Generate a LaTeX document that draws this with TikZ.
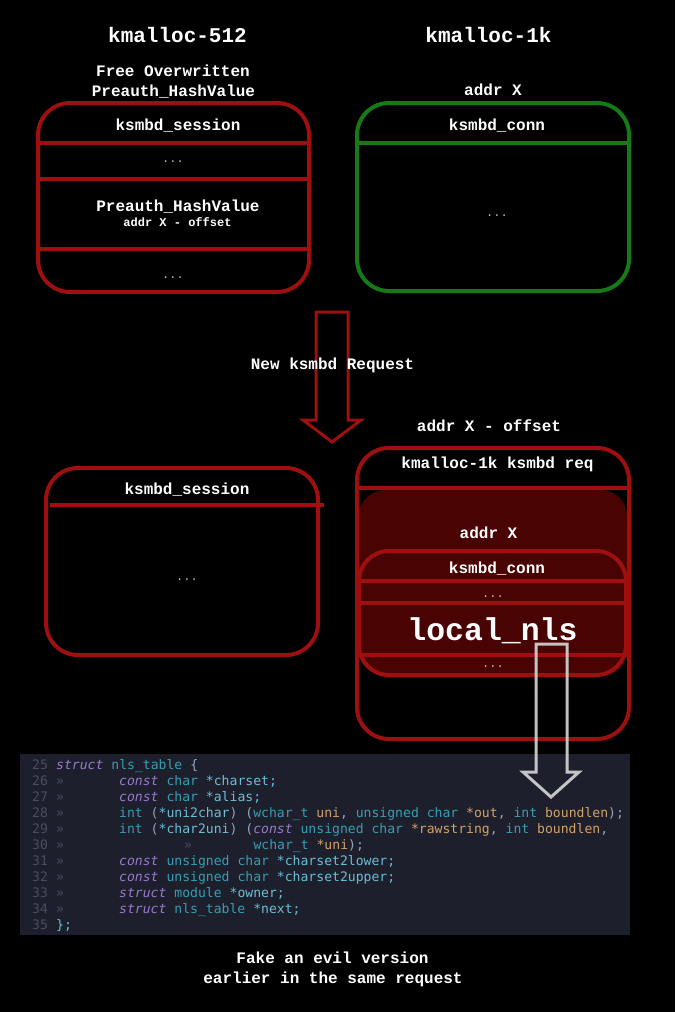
\documentclass[tikz,border=0pt]{standalone}
\usepackage{fontspec}
\setmainfont{Liberation Mono}
\newfontfamily\codefont{DejaVu Sans Mono}
\definecolor{boxred}{RGB}{158,16,16}
\definecolor{fillred}{RGB}{74,3,3}
\definecolor{boxgreen}{RGB}{22,122,22}
\definecolor{codebg}{RGB}{30,31,44}
\definecolor{lncol}{RGB}{72,78,98}
\definecolor{kwcol}{RGB}{152,122,208}
\definecolor{tycol}{RGB}{52,160,178}
\definecolor{nmcol}{RGB}{104,192,212}
\definecolor{pacol}{RGB}{212,162,102}
\definecolor{pucol}{RGB}{150,166,188}
\definecolor{dotcol}{RGB}{190,190,190}
\definecolor{warrow}{RGB}{214,214,214}
\newcommand\codesz{\codefont\fontsize{13.1}{16}\selectfont}
\newcommand\cKw[1]{\textcolor{kwcol}{\itshape #1}}
\newcommand\cTy[1]{\textcolor{tycol}{#1}}
\newcommand\cNm[1]{\textcolor{nmcol}{#1}}
\newcommand\cPa[1]{\textcolor{pacol}{#1}}
\newcommand\cPu[1]{\textcolor{pucol}{#1}}
\begin{document}
\begin{tikzpicture}[x=1pt,y=-1pt,
  lbl/.style={text=white,font=\fontsize{16}{19}\selectfont\bfseries,inner sep=0,anchor=base},
  ttl/.style={lbl,font=\fontsize{21}{25}\selectfont\bfseries},
  sml/.style={lbl,font=\fontsize{12}{14}\selectfont\bfseries},
  big/.style={lbl,font=\fontsize{31.5}{36}\selectfont\bfseries},
  dots/.style={text=dotcol,font=\fontsize{12}{14}\selectfont,inner sep=0,anchor=base},
  membox/.style={rectangle,draw=boxred,line width=4pt,rounded corners=32,inner sep=0},
  greenbox/.style={membox,draw=boxgreen},
  divider/.style={draw=boxred,line width=4pt},
  gdivider/.style={draw=boxgreen,line width=4pt},
  fatarrow/.style={draw=boxred,line width=3pt,line join=miter},
  warr/.style={draw=warrow,line width=3pt,opacity=0.9,line join=miter},
  ln/.style={text=lncol,font=\codesz,inner sep=0,anchor=base west},
  code/.style={text=pucol,font=\codesz,inner sep=0,anchor=base west}]
\fill[black] (0,0) rectangle (675,1012);
\useasboundingbox (0,0) rectangle (675,1012);

% ---------- top-left: kmalloc-512 ----------
\node[ttl] (t512) at (177.5,42) {kmalloc-512};
\node[lbl] (free1) at (173,76.5) {Free Overwritten};
\node[lbl] (free2) at (173.5,96.5) {Preauth\_HashValue};
\node[membox,minimum width=271pt,minimum height=189pt] (sess) at (173.5,197.5) {};
\draw[divider] (sess.west |- 0,143) -- (sess.east |- 0,143);
\draw[divider] (sess.west |- 0,179) -- (sess.east |- 0,179);
\draw[divider] (sess.west |- 0,249) -- (sess.east |- 0,249);
\node[lbl] (sessT) at (178,130.5) {ksmbd\_session};
\node[dots] (sessD1) at (173,162) {...};
\node[lbl] (phv) at (178,211.5) {Preauth\_HashValue};
\node[sml] (phvA) at (177.5,226) {addr X - offset};
\node[dots] (sessD2) at (173,278) {...};

% ---------- top-right: kmalloc-1k ----------
\node[ttl] (t1k) at (488.5,42) {kmalloc-1k};
\node[lbl] (addrX) at (493,95.5) {addr X};
\node[greenbox,minimum width=272pt,minimum height=188pt] (conn) at (493,197) {};
\draw[gdivider] (conn.west |- 0,143) -- (conn.east |- 0,143);
\node[lbl] (connT) at (497,130.5) {ksmbd\_conn};
\node[dots] (connD) at (497,216) {...};

% ---------- red arrow ----------
\draw[fatarrow] (316,312) -- (348,312) -- (348,420) -- (361,420) -- (332,442) -- (303,420) -- (316,420) -- cycle;
\node[lbl] (newreq) at (332.5,369.5) {New ksmbd Request};

% ---------- bottom-left ----------
\node[membox,minimum width=272pt,minimum height=187pt] (sess2) at (182,561.5) {};
\draw[divider] (50,505) -- (sess2.east |- 0,505) -- ++(4,0);
\node[lbl] (sess2T) at (187,494.5) {ksmbd\_session};
\node[dots] (sess2D) at (187,580) {...};

% ---------- bottom-right ----------
\node[lbl] (addrXo) at (489,431.5) {addr X - offset};
\fill[fillred,rounded corners=26] (359,490) rectangle (627,676);
\node[membox,minimum width=272pt,minimum height=291pt] (req) at (493,593.5) {};
\draw[divider] (req.west |- 0,488) -- (req.east |- 0,488);
\node[lbl] (reqT) at (497.5,468.5) {kmalloc-1k ksmbd req};
\node[lbl] (addrX2) at (488.5,538.5) {addr X};
\node[membox,rounded corners=30,minimum width=267pt,minimum height=124pt] (conn2) at (492.5,613) {};
\draw[divider] (conn2.west |- 0,581) -- (conn2.east |- 0,581);
\draw[divider] (conn2.west |- 0,603) -- (conn2.east |- 0,603);
\draw[divider] (conn2.west |- 0,655) -- (conn2.east |- 0,655);
\node[lbl] (conn2T) at (497,573.5) {ksmbd\_conn};
\node[dots] (conn2D1) at (493,597) {...};
\node[big] (nls) at (492.5,640) {local\_nls};
\node[dots] (conn2D2) at (493,667) {...};

% ---------- code block ----------
\fill[codebg] (20,754) rectangle (630,935);
\node[ln] (n25) at (32,769.5) {25};
\node[code] (c25) at (56,769.5) {\cKw{struct} \cTy{nls\_table} \cPu{\{}};
\node[ln] (n26) at (32,785.5) {26};
\node[ln] (m26) at (56,785.5) {»};
\node[code] (c26) at (119,785.5) {\cKw{const} \cTy{char} \cNm{*charset;}};
\node[ln] (n27) at (32,801.5) {27};
\node[ln] (m27) at (56,801.5) {»};
\node[code] (c27) at (119,801.5) {\cKw{const} \cTy{char} \cNm{*alias;}};
\node[ln] (n28) at (32,817.5) {28};
\node[ln] (m28) at (56,817.5) {»};
\node[code] (c28) at (119,817.5) {\cTy{int} \cPu{(}\cNm{*uni2char}\cPu{)} \cPu{(}\cTy{wchar\_t} \cPa{uni}\cPu{,} \cTy{unsigned} \cTy{char} \cPa{*out}\cPu{,} \cTy{int} \cPa{boundlen}\cPu{);}};
\node[ln] (n29) at (32,833.5) {29};
\node[ln] (m29) at (56,833.5) {»};
\node[code] (c29) at (119,833.5) {\cTy{int} \cPu{(}\cNm{*char2uni}\cPu{)} \cPu{(}\cKw{const} \cTy{unsigned} \cTy{char} \cPa{*rawstring}\cPu{,} \cTy{int} \cPa{boundlen}\cPu{,}};
\node[ln] (n30) at (32,849.5) {30};
\node[ln] (m30) at (56,849.5) {»};
\node[ln] (m30b) at (184,849.5) {»};
\node[code] (c30) at (253.3,849.5) {\cTy{wchar\_t} \cPa{*uni}\cPu{);}};
\node[ln] (n31) at (32,865.5) {31};
\node[ln] (m31) at (56,865.5) {»};
\node[code] (c31) at (119,865.5) {\cKw{const} \cTy{unsigned} \cTy{char} \cNm{*charset2lower;}};
\node[ln] (n32) at (32,881.5) {32};
\node[ln] (m32) at (56,881.5) {»};
\node[code] (c32) at (119,881.5) {\cKw{const} \cTy{unsigned} \cTy{char} \cNm{*charset2upper;}};
\node[ln] (n33) at (32,897.5) {33};
\node[ln] (m33) at (56,897.5) {»};
\node[code] (c33) at (119,897.5) {\cKw{struct} \cTy{module} \cNm{*owner;}};
\node[ln] (n34) at (32,913.5) {34};
\node[ln] (m34) at (56,913.5) {»};
\node[code] (c34) at (119,913.5) {\cKw{struct} \cTy{nls\_table} \cNm{*next;}};
\node[ln] (n35) at (32,929.5) {35};
\node[code] (c35) at (56,929.5) {\cNm{\};}};

% ---------- white arrow ----------
\draw[warr] (536,644) -- (567,644) -- (567,772) -- (579,772) -- (551,797) -- (523,772) -- (536,772) -- cycle;

% ---------- caption ----------
\node[lbl] (cap1) at (332.5,963.5) {Fake an evil version};
\node[lbl] (cap2) at (333,983) {earlier in the same request};
\end{tikzpicture}
\end{document}
